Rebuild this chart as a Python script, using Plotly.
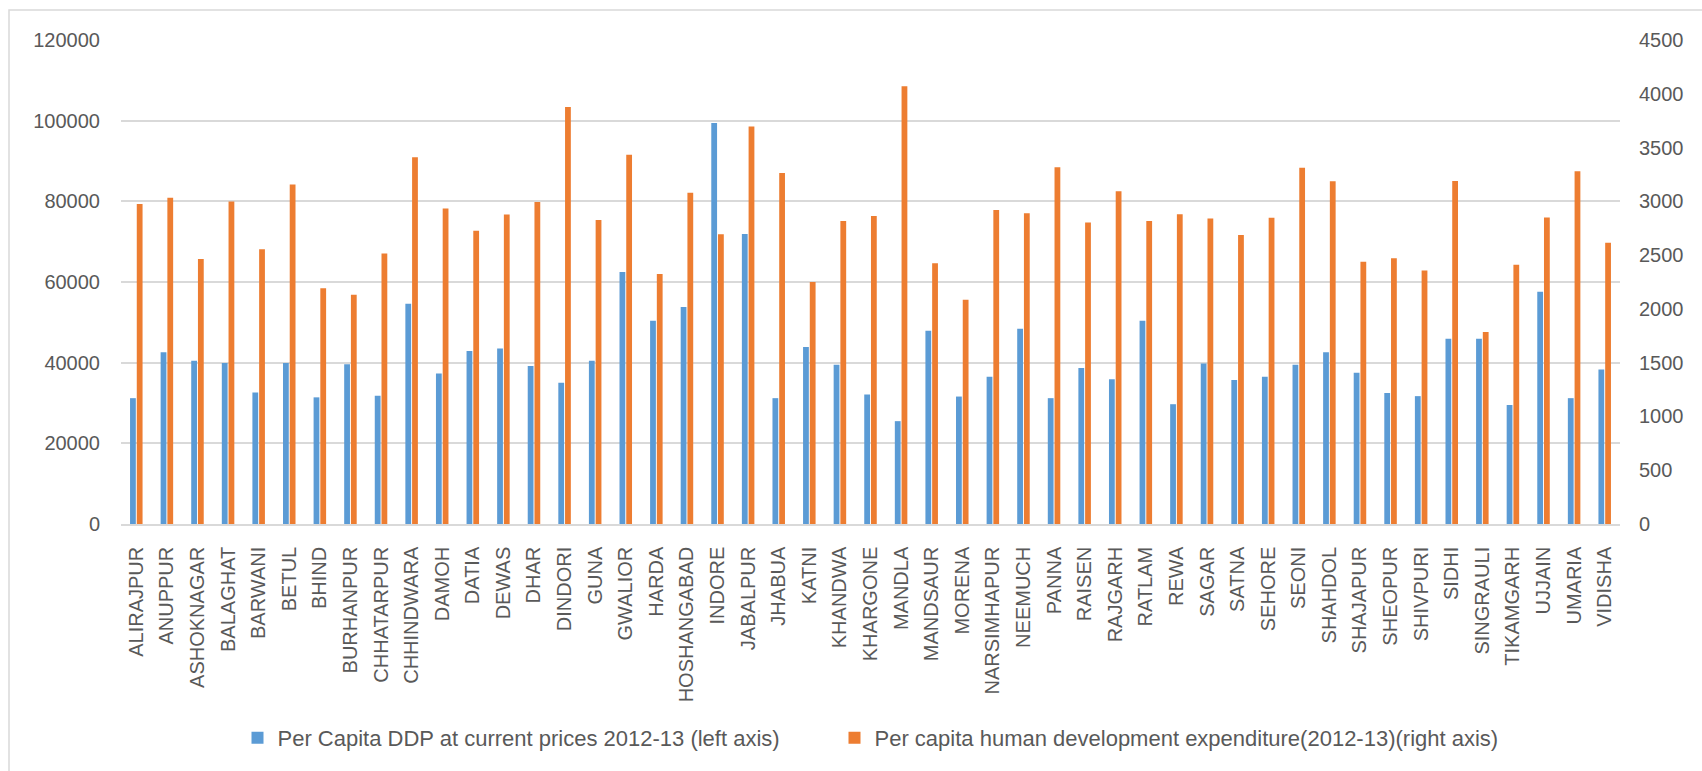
import plotly.graph_objects as go

districts = ["ALIRAJPUR", "ANUPPUR", "ASHOKNAGAR", "BALAGHAT", "BARWANI", "BETUL", "BHIND",
             "BURHANPUR", "CHHATARPUR", "CHHINDWARA", "DAMOH", "DATIA", "DEWAS", "DHAR",
             "DINDORI", "GUNA", "GWALIOR", "HARDA", "HOSHANGABAD", "INDORE", "JABALPUR",
             "JHABUA", "KATNI", "KHANDWA", "KHARGONE", "MANDLA", "MANDSAUR", "MORENA",
             "NARSIMHAPUR", "NEEMUCH", "PANNA", "RAISEN", "RAJGARH", "RATLAM", "REWA",
             "SAGAR", "SATNA", "SEHORE", "SEONI", "SHAHDOL", "SHAJAPUR", "SHEOPUR",
             "SHIVPURI", "SIDHI", "SINGRAULI", "TIKAMGARH", "UJJAIN", "UMARIA", "VIDISHA"]

ddp_per_capita = [31200, 42600, 40500, 39900, 32600, 39900, 31400, 39600, 31800, 54600,
                  37300, 42900, 43500, 39200, 35000, 40500, 62500, 50400, 53800, 99400,
                  71900, 31200, 43900, 39500, 32100, 25500, 47900, 31600, 36500, 48400,
                  31200, 38700, 35900, 50400, 29700, 39800, 35700, 36500, 39500, 42600,
                  37500, 32500, 31700, 45900, 45900, 29500, 57600, 31200, 38300]

hd_expenditure = [2976, 3033, 2464, 2999, 2554, 3156, 2191, 2131, 2514, 3409,
                  2933, 2727, 2877, 2993, 3877, 2827, 3432, 2325, 3079, 2694,
                  3695, 3263, 2251, 2817, 2864, 4071, 2425, 2085, 2920, 2890,
                  3316, 2804, 3093, 2817, 2880, 2840, 2687, 2847, 3313, 3186,
                  2438, 2471, 2358, 3189, 1786, 2411, 2850, 3279, 2614]

left_ticks = [0, 20000, 40000, 60000, 80000, 100000, 120000]
right_ticks = [0, 500, 1000, 1500, 2000, 2500, 3000, 3500, 4000, 4500]

name_left = "Per Capita DDP at current prices 2012-13 (left axis)"
name_right = "Per capita human development expenditure(2012-13)(right axis)"

TEXT = "#595959"
GRID = "#D9D9D9"

fig = go.Figure()
fig.add_trace(go.Bar(x=districts, y=ddp_per_capita, name=name_left,
                     marker=dict(color="#5B9BD5", line=dict(width=0)),
                     offsetgroup="a", yaxis="y", legendwidth=552))
fig.add_trace(go.Bar(x=districts, y=hd_expenditure, name=name_right,
                     marker=dict(color="#ED7D31", line=dict(width=0)),
                     offsetgroup="b", yaxis="y2"))

W, H = 1702, 771
L, R, T, B = 121, 82, 40, 247
pw = W - L - R
ph = H - T - B

def px_x(p):
    return (p - L) / pw

def px_y(p):
    return (H - B - p) / ph

fig.update_layout(
    width=W, height=H,
    margin=dict(l=L, r=R, t=T, b=B),
    paper_bgcolor="white", plot_bgcolor="white",
    barmode="group", bargap=0.56, bargroupgap=0.14,
    font=dict(family="Liberation Sans, Arial, sans-serif", color=TEXT, size=19),
    xaxis=dict(type="category", tickangle=-90, showline=True, linecolor=GRID, linewidth=1.5,
               showgrid=False, ticks="", tickfont=dict(size=20, color=TEXT),
               ticklabelstandoff=13, fixedrange=True),
    yaxis=dict(range=[0, 120000], tickvals=left_ticks, ticktext=[str(v) for v in left_ticks],
               showgrid=True, gridcolor=GRID, gridwidth=1.5, zeroline=False, showline=False,
               ticks="", tickfont=dict(size=20, color=TEXT), ticklabelstandoff=20),
    yaxis2=dict(range=[0, 4500], tickvals=right_ticks, ticktext=[str(v) for v in right_ticks],
                overlaying="y", side="right", showgrid=False, zeroline=False, showline=False,
                ticks="", tickfont=dict(size=20, color=TEXT), ticklabelstandoff=18),
    legend=dict(orientation="h", x=0.5, xanchor="center", y=px_y(738), yanchor="middle",
                font=dict(family="Liberation Sans, Arial, sans-serif", size=22, color=TEXT),
                itemwidth=30, traceorder="normal"),
    shapes=[dict(type="rect", xref="paper", yref="paper",
                 x0=px_x(9), x1=px_x(1720), y0=px_y(790), y1=px_y(10),
                 line=dict(color=GRID, width=1.5), fillcolor="rgba(0,0,0,0)", layer="below")],
    showlegend=True,
)

fig.write_html("out.html")
